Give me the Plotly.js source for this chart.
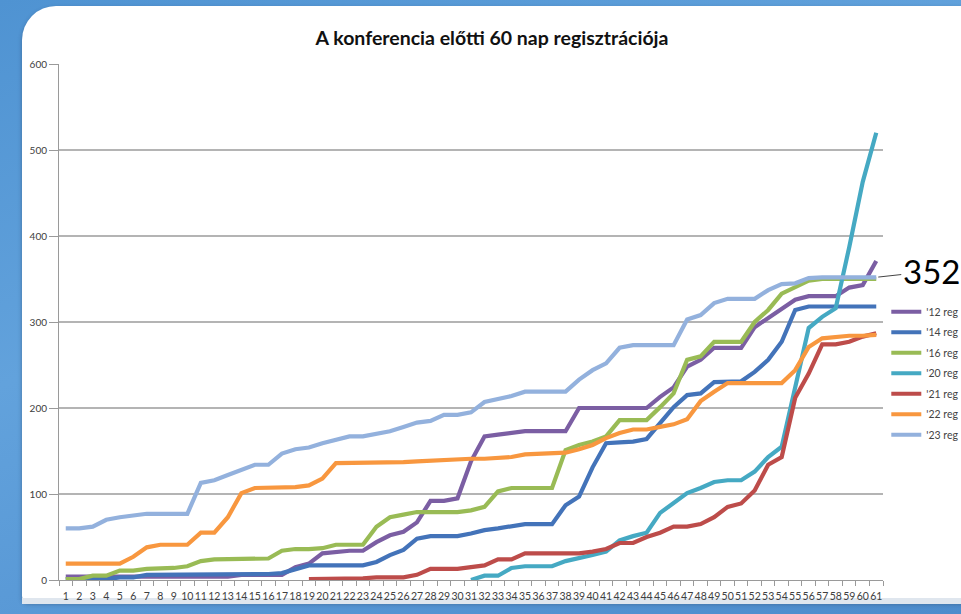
<!DOCTYPE html>
<html>
<head>
<meta charset="utf-8">
<script src="https://cdn.plot.ly/plotly-3.0.1.min.js"></script>
<style>
  html, body { margin: 0; padding: 0; width: 961px; height: 614px; overflow: hidden; }
  body { background: linear-gradient(160deg, #4f93d2 0%, #62a2dc 40%, #5797d5 70%, #4d8ccc 100%); position: relative; }
  #panel { position: absolute; left: 22px; top: 6px; width: 960px; height: 596px; background: #ffffff;
           border-top-left-radius: 34px; border-bottom-left-radius: 6px;
           box-shadow: 0 2px 4px rgba(40,60,90,0.45); }
  #bottomstrip { position: absolute; left: 22px; top: 598px; width: 960px; height: 6px; background: #dfe6ee; }
  #chart { position: absolute; left: 0; top: 0; width: 961px; height: 614px; }
</style>
</head>
<body>
<div id="panel"></div>
<div id="bottomstrip"></div>
<div id="chart"></div>
<script>
const days = ["1","2","3","4","5","6","7","8","9","10","11","12","13","14","15","16","17","18","19","20",
  "21","22","23","24","25","26","27","28","29","30","31","32","33","34","35","36","37","38","39","40",
  "41","42","43","44","45","46","47","48","49","50","51","52","53","54","55","56","57","58","59","60","61"];

const seriesNames = ["'12 reg", "'14 reg", "'16 reg", "'20 reg", "'21 reg", "'22 reg", "'23 reg"];

const reg12 = [4,4,4,3,3,3,3,3,3,3,3,3,4,6,6,6,6,15,19,31,
  33,34,34,44,52,56,67,92,92,95,138,167,169,171,173,173,173,173,200,200,
  200,200,200,200,213,224,248,256,270,270,270,294,305,316,326,330,330,330,340,343,371];

const reg14 = [1,1,1,1,3,3,6,6,6,6,6,6,7,7,7,7,8,12,17,17,
  17,17,17,21,29,35,48,51,51,51,54,58,60,62,65,65,65,87,97,131,
  159,160,161,164,182,201,215,217,230,231,231,242,256,277,314,318,318,318,318,318,318];

const reg16 = [1,1,5,5,11,11,13,13,14,16,22,24,24,25,25,25,34,36,36,37,
  41,41,41,62,73,76,79,79,79,79,81,85,103,107,107,107,107,151,157,161,
  167,186,186,186,201,217,256,260,277,277,277,300,314,333,340,348,350,350,350,350,350];

const reg20 = [null,null,null,null,null,null,null,null,null,null,null,null,null,null,null,null,null,null,null,null,
  null,null,null,null,null,null,null,null,null,null,0,5,5,14,16,16,16,22,25,29,
  33,46,51,55,78,89,101,107,114,116,116,126,143,155,225,293,306,316,387,463,520];

const reg21 = [null,null,null,null,null,null,null,null,null,null,null,null,null,null,null,null,null,null,1,1,
  2,2,2,3,3,3,6,13,13,13,15,17,24,24,31,31,31,31,31,33,
  36,43,43,50,55,62,62,65,73,85,89,104,134,143,212,240,274,274,277,283,287];

const reg22 = [19,19,19,19,19,27,38,41,41,41,55,55,73,101,107,107,107,108,110,118,
  136,136,136,136,136,137,138,139,140,140,141,141,142,143,146,147,148,148,152,157,
  165,171,175,175,178,181,187,208,219,229,229,229,229,229,244,271,281,283,284,284,285];

const reg23 = [60,60,62,70,73,75,77,77,77,77,113,116,122,128,134,134,147,152,154,159,
  163,167,167,170,173,178,183,185,192,192,195,207,210,214,219,219,219,219,233,244,
  252,270,273,273,273,273,303,308,322,327,327,327,337,344,345,351,352,352,352,352,352];

const lastLabel = "352";
const yTicks = [0, 100, 200, 300, 400, 500, 600];

const colors = ["#7b5ea3", "#4373b9", "#99bb55", "#45a9c3", "#bd4c4a", "#f8973f", "#93b1dd"];
const allSeries = [reg12, reg14, reg16, reg20, reg21, reg22, reg23];

const traces = allSeries.map((vals, i) => ({
  type: "scatter",
  mode: "lines",
  x: days,
  y: vals,
  name: seriesNames[i],
  legendgroup: "g" + i,
  line: { color: colors[i], width: 4.2 },
  connectgaps: false,
  hoverinfo: "skip"
}));

const lastIdx = days.length - 1;

const layout = {
  width: 961,
  height: 614,
  margin: { l: 59, r: 78, t: 64, b: 34, pad: 0, autoexpand: false },
  paper_bgcolor: "rgba(0,0,0,0)",
  plot_bgcolor: "#ffffff",
  font: { family: "Lato, 'Open Sans', sans-serif", color: "#444444" },
  title: {
    text: "A konferencia előtti 60 nap regisztrációja",
    font: { family: "Lato, 'Open Sans', sans-serif", size: 19.5, color: "#111111", weight: "bold" },
    x: 0.512,
    xanchor: "center",
    y: 0.938,
    yanchor: "middle"
  },
  showlegend: true,
  legend: {
    x: 1.004,
    xanchor: "left",
    y: 0.548,
    yanchor: "top",
    font: { size: 10.5, color: "#444444", family: "Lato, 'Open Sans', sans-serif" },
    bgcolor: "rgba(0,0,0,0)",
    tracegroupgap: 1.5,
    itemwidth: 30,
    borderwidth: 0
  },
  xaxis: {
    type: "category",
    autorange: false,
    range: [-0.5, days.length - 0.5],
    tickmode: "array",
    tickvals: days,
    ticktext: days,
    tickangle: 0,
    ticks: "outside",
    tickson: "boundaries",
    ticklen: 5,
    tickcolor: "#9a9a9a",
    ticklabelstandoff: 6,
    showline: true,
    linecolor: "#9a9a9a",
    linewidth: 1,
    showgrid: false,
    zeroline: false,
    tickfont: { size: 10.5, color: "#404040", family: "Lato, 'Open Sans', sans-serif" },
    fixedrange: true
  },
  yaxis: {
    autorange: false,
    range: [0, 600],
    tickvals: yTicks,
    ticks: "outside",
    ticklen: 9,
    tickcolor: "#9a9a9a",
    showline: true,
    linecolor: "#9a9a9a",
    linewidth: 1,
    showgrid: true,
    gridcolor: "#b4b4b4",
    gridwidth: 1.2,
    zeroline: false,
    tickfont: { size: 10, color: "#404040", family: "Lato, 'Open Sans', sans-serif" },
    fixedrange: true
  },
  annotations: [{
    x: lastIdx,
    y: reg23[lastIdx],
    xref: "x",
    yref: "y",
    text: lastLabel,
    showarrow: true,
    arrowhead: 0,
    arrowwidth: 1,
    arrowcolor: "#444444",
    ax: 55,
    ay: -6,
    standoff: 2,
    font: { size: 33, color: "#000000", family: "Lato, 'Open Sans', sans-serif" }
  }]
};

Plotly.newPlot("chart", traces, layout, { staticPlot: true, displayModeBar: false });
</script>
</body>
</html>
